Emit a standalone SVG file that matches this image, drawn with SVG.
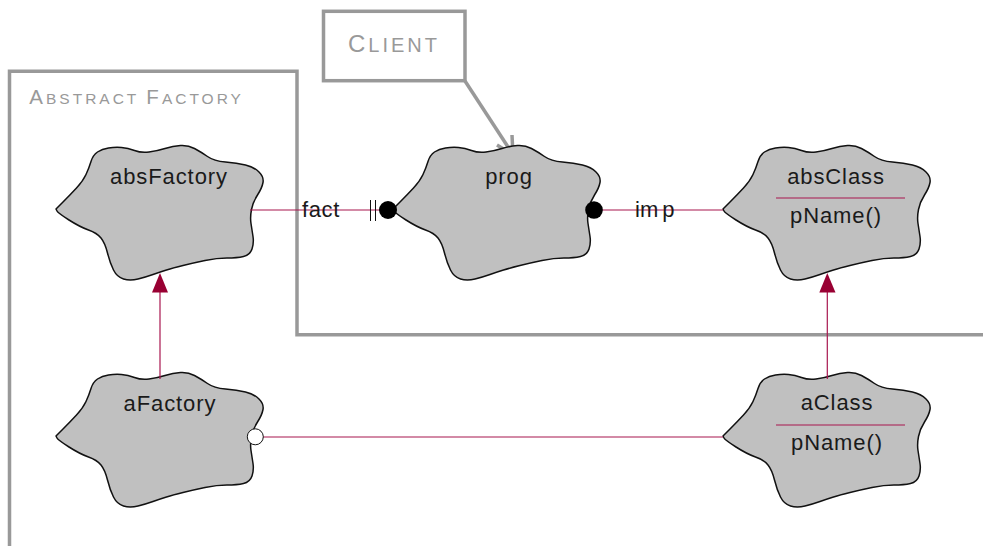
<svg xmlns="http://www.w3.org/2000/svg" width="983" height="546" viewBox="0 0 983 546">
<style>
.cloud{fill:#c0c0c0;stroke:#111;stroke-width:1.5;stroke-linejoin:round}
.lbl{font-family:"Liberation Sans",Arial,sans-serif;font-size:22px;fill:#1a1a1a;letter-spacing:0.9px;text-anchor:middle}
.frame{fill:none;stroke:#999;stroke-width:3.5}
.ftxt{font-family:"Liberation Sans",Arial,sans-serif;fill:#999}
.conn{stroke:#a8164f;stroke-width:1.2;fill:none}
.gen{fill:#990033}
.div{stroke:#a8164f;stroke-width:1.2}
</style>
<defs>
<path id="cloud" d="M56,209 L63,202 Q70,195 76.5,188 Q83,181 86,174.5 Q89,168 91,161.5 Q93,155 97.5,152 Q102,149 108.5,148 Q115,147 121.5,147.5 Q128,148 134.5,150.5 Q141,153 149,152 Q157,151 165,148.5 Q173,146 180.5,145.5 Q188,145 194.5,148.5 Q201,152 207.5,156.5 Q214,161 225.5,162 Q237,163 245.5,165 Q254,167 259,172 Q264,177 263,182.5 Q262,188 257.5,195 Q253,202 251.5,209.5 Q250,217 251,223.5 Q252,230 253,236.5 Q254,243 252,249 Q250,255 243.5,256.5 Q237,258 227,258 Q217,258 205,260.5 Q193,263 183,265.5 Q173,268 166.5,270 Q160,272 153,274.5 Q146,277 138,279 Q130,281 123.5,279 Q117,277 113.5,270 Q110,263 107.5,253 Q105,243 101,238 Q97,233 88.5,230 Q80,227 69,220 Q58,213 57,211 Z"/>
</defs>
<rect width="983" height="546" fill="#fff"/>

<g id="abstract-factory-frame">
<path class="frame" d="M9.5,546 V71.3 H297 V334.7 H983"/>
<text class="ftxt" x="29.3" y="104" letter-spacing="3"><tspan font-size="20.5">A</tspan><tspan font-size="15.5">BSTRACT </tspan><tspan font-size="20.5">F</tspan><tspan font-size="15.5">ACTORY</tspan></text>
</g>

<g id="client">
<rect class="frame" x="323.5" y="11.3" width="141.5" height="69.4"/>
<text class="ftxt" x="348" y="51.7" letter-spacing="3"><tspan font-size="24">C</tspan><tspan font-size="20">LIENT</tspan></text>
<path class="frame" d="M465,81 L512,153"/>
<polyline class="frame" points="497,145 513,155 512,135" stroke-linejoin="miter"/>
</g>

<g id="absFactory">
<use href="#cloud" class="cloud"/>
<text class="lbl" x="169" y="184">absFactory</text>
</g>

<g id="prog">
<use href="#cloud" class="cloud" transform="translate(337,0)"/>
<text class="lbl" x="509" y="184">prog</text>
</g>

<g id="absClass">
<use href="#cloud" class="cloud" transform="translate(667,0)"/>
<text class="lbl" x="836" y="184">absClass</text>
<line class="div" x1="776" y1="198" x2="905" y2="198"/>
<text class="lbl" x="836" y="223">pName()</text>
</g>

<g id="aFactory">
<use href="#cloud" class="cloud" transform="translate(0,227)"/>
<text class="lbl" x="170" y="411">aFactory</text>
</g>

<g id="aClass">
<use href="#cloud" class="cloud" transform="translate(667,227)"/>
<text class="lbl" x="837" y="410">aClass</text>
<line class="div" x1="776" y1="425" x2="905" y2="425"/>
<text class="lbl" x="837" y="450">pName()</text>
</g>

<g id="connectors">
<line class="conn" x1="250" y1="210" x2="380" y2="210"/>
<line x1="370.5" y1="200" x2="370.5" y2="221" stroke="#111" stroke-width="1"/>
<line x1="375.5" y1="200" x2="375.5" y2="221" stroke="#111" stroke-width="1"/>
<circle cx="388" cy="210" r="9" fill="#000"/>
<text class="lbl" x="321" y="217" style="letter-spacing:0.6px">fact</text>

<line class="conn" x1="594" y1="210" x2="723" y2="210"/>
<circle cx="594" cy="210" r="8.8" fill="#000"/>
<text class="lbl" x="635" y="217" style="text-anchor:start;letter-spacing:0px">im<tspan dx="4">p</tspan></text>

<line class="conn" x1="160" y1="290" x2="160" y2="379"/>
<polygon class="gen" points="160,273 152,292.5 168,292.5"/>
<line class="conn" x1="827.3" y1="290" x2="827.3" y2="379"/>
<polygon class="gen" points="827.3,273 819.3,292.5 835.5,292.5"/>

<line class="conn" x1="263" y1="437" x2="723" y2="437"/>
<circle cx="255.3" cy="436.8" r="8" fill="#fff" stroke="#111" stroke-width="1"/>
</g>
</svg>
